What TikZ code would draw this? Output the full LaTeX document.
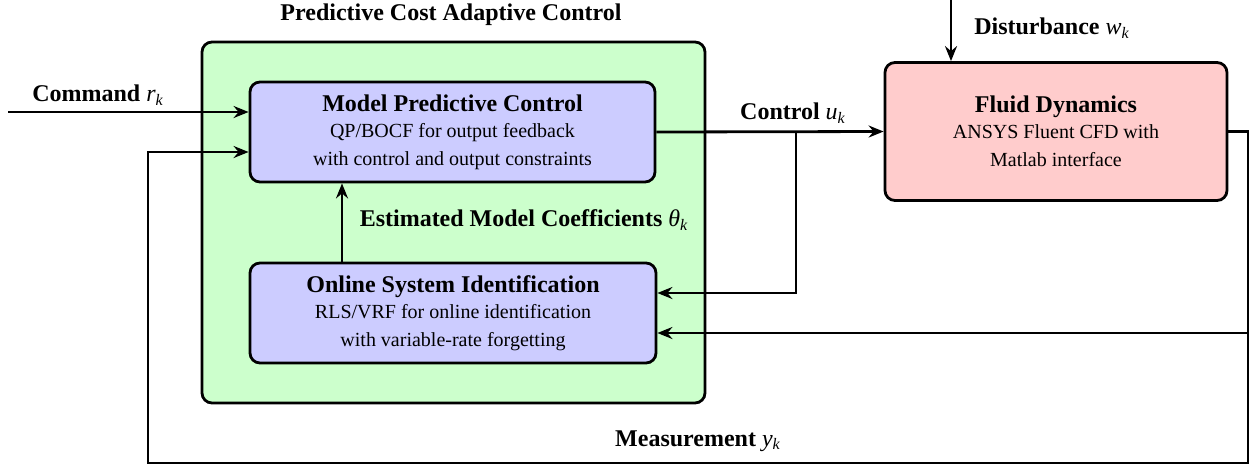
\documentclass[tikz,border=0pt]{standalone}
\usepackage{fontspec}
\setmainfont{Liberation Serif}
\usetikzlibrary{arrows.meta, positioning, calc}
\definecolor{CtrlGreen}{RGB}{204, 255, 204}
\definecolor{BlockBlue}{RGB}{204, 204, 255}
\definecolor{PlantRed}{RGB}{255, 204, 204}
\newcommand{\sigvar}[2]{{\normalfont\itshape #1\textsubscript{#2}}}

\begin{document}
\begin{tikzpicture}[x=0.5pt, y=-0.5pt, >={Stealth[length=7.5pt, width=6pt, inset=2.5pt]},
    block/.style={draw, line width=1.4pt, rounded corners=5pt, align=center, inner sep=0pt},
    label/.style={font=\large\bfseries, inner sep=1pt},
    sig/.style={->, line width=1.4pt}]
  \useasboundingbox (0,0) rectangle (1253,467);

  % Nodes
  \node[block, fill=CtrlGreen, minimum width=251.5pt, minimum height=180.5pt] (pcac) at (453.5,222.5) {};
  \node[label] (pcactitle) at (451,15) {Predictive Cost Adaptive Control};

  \node[block, fill=BlockBlue, minimum width=202.5pt, minimum height=50pt] (mpc) at (452.5,132) {
    {\large\bfseries Model Predictive Control}\\[1pt]
    QP/BOCF for output feedback\\[2pt]
    with control and output constraints
  };

  \node[block, fill=BlockBlue, minimum width=203pt, minimum height=50pt] (sysid) at (453,313) {
    {\large\bfseries Online System Identification}\\[1pt]
    RLS/VRF for online identification\\[2pt]
    with variable-rate forgetting
  };

  \node[block, fill=PlantRed, minimum width=171pt, minimum height=69pt] (fluid) at (1056,131.5) {
    {\large\bfseries Fluid Dynamics}\\[1pt]
    ANSYS Fluent CFD with\\[2pt]
    Matlab interface
  };

  \coordinate (cmd) at (8,112);
  \coordinate (fb) at (148,152);
  \coordinate (bl) at (148,463);
  \coordinate (br) at (1248,463);
  \coordinate (meas) at (1248,333);
  \coordinate (split) at (796,132);
  \coordinate (uin) at (796,293);
  \coordinate (theta) at (342,263);
  \coordinate (dist) at (951,0);

  % Labels
  \node[label] (cmdlbl) at (98,95) {Command \sigvar{r}{k}};
  \node[label] (ctrllbl) at (793,113) {Control \sigvar{u}{k}};
  \node[label] (distlbl) at (1052,28) {Disturbance \sigvar{w}{k}};
  \node[label] (thetalbl) at (524,220) {Estimated Model Coefficients \sigvar{θ}{k}};
  \node[label] (measlbl) at (698,441) {Measurement \sigvar{y}{k}};

  % Arrows
  \draw[sig] (cmd) -- (cmd -| mpc.west);
  \draw[sig] (mpc.east) -- (fluid.west);
  \draw[sig] (dist) -- (dist |- fluid.north);
  \draw[sig] (theta) -- (theta |- mpc.south);
  \draw[sig] (split) -- (uin) -- (uin -| sysid.east);
  \draw[sig] (meas) -- (meas -| sysid.east);
  \draw[sig] (fluid.east) -| (br) -- (bl) |- (fb -| mpc.west);
\end{tikzpicture}
\end{document}
